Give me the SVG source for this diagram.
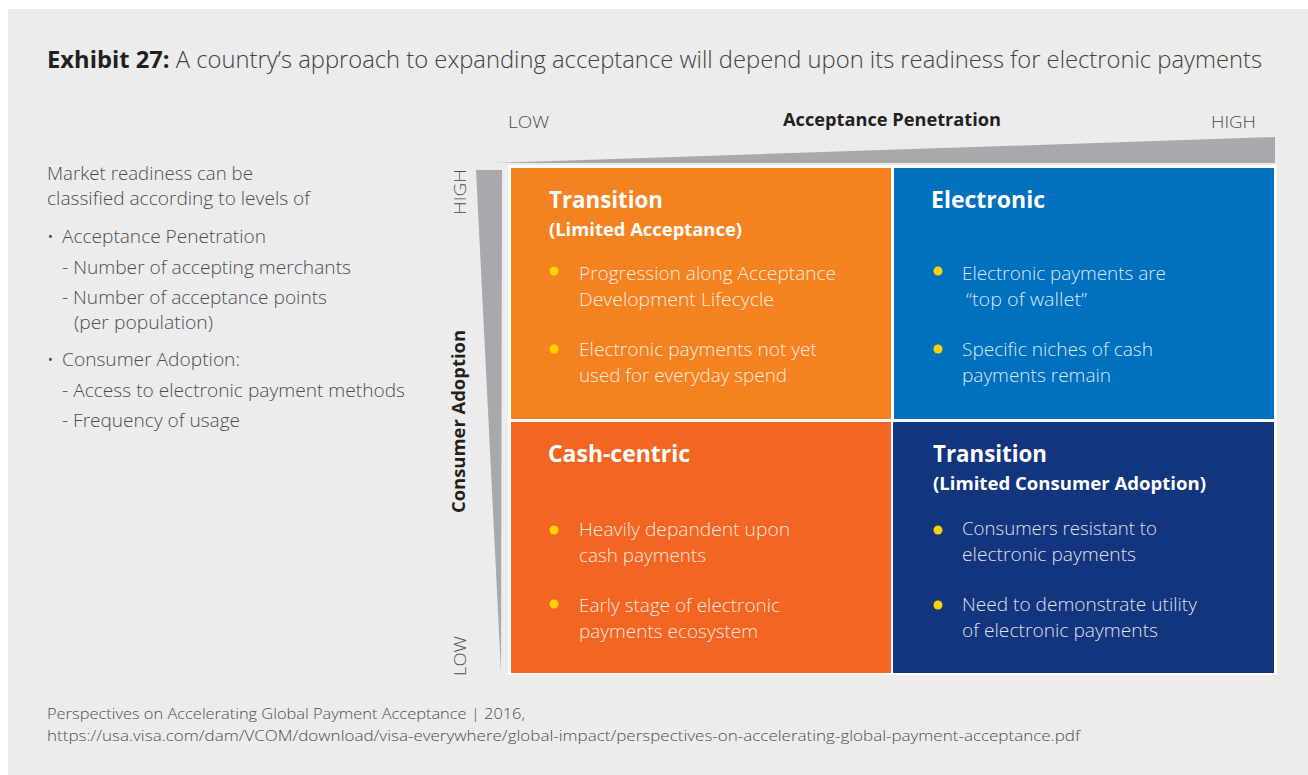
<svg xmlns="http://www.w3.org/2000/svg" width="1308" height="775" viewBox="0 0 1308 775">
<style>
text{font-family:"Open Sans","Noto Sans","Liberation Sans",sans-serif}
.lt{font-weight:300;fill:#4d4d4f;font-size:18px}
.ax{font-weight:300;fill:#4d4d4f;font-size:17px}
.axb{font-weight:700;fill:#231f20;font-size:18px}
.h1{font-weight:700;fill:#ffffff;font-size:24px}
.h2{font-weight:700;fill:#ffffff;font-size:18px}
.bt{font-weight:300;fill:#ffffff;fill-opacity:0.88;font-size:18px}
.dot{fill:#ffd200}
.ft{font-weight:300;fill:#4d4d4f;font-size:15px}
</style>
<rect x="0" y="0" width="1308" height="775" fill="#ffffff"/>
<rect x="8" y="9" width="1300" height="766" fill="#ececec"/>
<text x="47" y="68" font-size="24" textLength="1215" lengthAdjust="spacingAndGlyphs"><tspan font-weight="700" fill="#231f20">Exhibit 27:</tspan><tspan font-weight="300" fill="#414042"> A country’s approach to expanding acceptance will depend upon its readiness for electronic payments</tspan></text>
<g id="legend">
<text class="lt" x="47" y="180" textLength="206" lengthAdjust="spacingAndGlyphs">Market readiness can be</text>
<text class="lt" x="47" y="205" textLength="263" lengthAdjust="spacingAndGlyphs">classified according to levels of</text>
<text class="lt" x="47" y="243">•</text>
<text class="lt" x="62" y="243" textLength="204" lengthAdjust="spacingAndGlyphs">Acceptance Penetration</text>
<text class="lt" x="62" y="274" textLength="289" lengthAdjust="spacingAndGlyphs">- Number of accepting merchants</text>
<text class="lt" x="62" y="304" textLength="265" lengthAdjust="spacingAndGlyphs">- Number of acceptance points</text>
<text class="lt" x="74" y="329" textLength="139" lengthAdjust="spacingAndGlyphs">(per population)</text>
<text class="lt" x="47" y="366">•</text>
<text class="lt" x="62" y="366" textLength="178" lengthAdjust="spacingAndGlyphs">Consumer Adoption:</text>
<text class="lt" x="62" y="397" textLength="343" lengthAdjust="spacingAndGlyphs">- Access to electronic payment methods</text>
<text class="lt" x="62" y="427" textLength="178" lengthAdjust="spacingAndGlyphs">- Frequency of usage</text>
</g>
<g id="axis-x">
<polygon points="495,163 1275,137 1275,163" fill="#a7a9ac"/>
<text class="ax" x="508" y="128" textLength="41" lengthAdjust="spacingAndGlyphs">LOW</text>
<text class="axb" x="783" y="126" textLength="218" lengthAdjust="spacingAndGlyphs">Acceptance Penetration</text>
<text class="ax" x="1211" y="128" textLength="45" lengthAdjust="spacingAndGlyphs">HIGH</text>
</g>
<g id="axis-y">
<polygon points="476,170 502,170 501,672" fill="#a7a9ac"/>
<text class="ax" transform="translate(466,215) rotate(-90)" textLength="46" lengthAdjust="spacingAndGlyphs">HIGH</text>
<text class="axb" transform="translate(465,513) rotate(-90)" textLength="183" lengthAdjust="spacingAndGlyphs">Consumer Adoption</text>
<text class="ax" transform="translate(466,676) rotate(-90)" textLength="40" lengthAdjust="spacingAndGlyphs">LOW</text>
</g>
<rect x="508" y="165" width="769" height="510" fill="#ffffff"/>
<g id="q-transition-acceptance">
<rect x="511" y="168" width="380" height="251" fill="#f58220"/>
<text class="h1" x="549" y="208" textLength="114" lengthAdjust="spacingAndGlyphs">Transition</text>
<text class="h2" x="549" y="236" textLength="193" lengthAdjust="spacingAndGlyphs">(Limited Acceptance)</text>
<circle class="dot" cx="554" cy="271" r="4.5"/>
<text class="bt" x="579" y="280" textLength="257" lengthAdjust="spacingAndGlyphs">Progression along Acceptance</text>
<text class="bt" x="579" y="306" textLength="195" lengthAdjust="spacingAndGlyphs">Development Lifecycle</text>
<circle class="dot" cx="554" cy="349" r="4.5"/>
<text class="bt" x="579" y="356" textLength="238" lengthAdjust="spacingAndGlyphs">Electronic payments not yet</text>
<text class="bt" x="579" y="382" textLength="208" lengthAdjust="spacingAndGlyphs">used for everyday spend</text>
</g>
<g id="q-electronic">
<rect x="894" y="168" width="380" height="251" fill="#0070bf"/>
<text class="h1" x="931" y="208" textLength="114" lengthAdjust="spacingAndGlyphs">Electronic</text>
<circle class="dot" cx="938" cy="271" r="4.5"/>
<text class="bt" x="962" y="280" textLength="204" lengthAdjust="spacingAndGlyphs">Electronic payments are</text>
<text class="bt" x="966" y="306" textLength="121" lengthAdjust="spacingAndGlyphs">“top of wallet”</text>
<circle class="dot" cx="938" cy="349" r="4.5"/>
<text class="bt" x="962" y="356" textLength="191" lengthAdjust="spacingAndGlyphs">Specific niches of cash</text>
<text class="bt" x="962" y="382" textLength="149" lengthAdjust="spacingAndGlyphs">payments remain</text>
</g>
<g id="q-cash-centric">
<rect x="511" y="422" width="380" height="251" fill="#f26522"/>
<text class="h1" x="548" y="462" textLength="142" lengthAdjust="spacingAndGlyphs">Cash-centric</text>
<circle class="dot" cx="554" cy="530" r="4.5"/>
<text class="bt" x="579" y="536" textLength="211" lengthAdjust="spacingAndGlyphs">Heavily depandent upon</text>
<text class="bt" x="579" y="562" textLength="127" lengthAdjust="spacingAndGlyphs">cash payments</text>
<circle class="dot" cx="554" cy="604" r="4.5"/>
<text class="bt" x="579" y="612" textLength="201" lengthAdjust="spacingAndGlyphs">Early stage of electronic</text>
<text class="bt" x="579" y="638" textLength="179" lengthAdjust="spacingAndGlyphs">payments ecosystem</text>
</g>
<g id="q-transition-adoption">
<rect x="893" y="422" width="381" height="251" fill="#13357d"/>
<text class="h1" x="933" y="462" textLength="114" lengthAdjust="spacingAndGlyphs">Transition</text>
<text class="h2" x="933" y="490" textLength="273" lengthAdjust="spacingAndGlyphs">(Limited Consumer Adoption)</text>
<circle class="dot" cx="938" cy="530" r="4.5"/>
<text class="bt" x="962" y="535" textLength="195" lengthAdjust="spacingAndGlyphs">Consumers resistant to</text>
<text class="bt" x="962" y="561" textLength="174" lengthAdjust="spacingAndGlyphs">electronic payments</text>
<circle class="dot" cx="938" cy="605" r="4.5"/>
<text class="bt" x="962" y="611" textLength="235" lengthAdjust="spacingAndGlyphs">Need to demonstrate utility</text>
<text class="bt" x="962" y="637" textLength="196" lengthAdjust="spacingAndGlyphs">of electronic payments</text>
</g>
<g id="footer">
<text class="ft" x="47" y="719" textLength="478" lengthAdjust="spacingAndGlyphs">Perspectives on Accelerating Global Payment Acceptance | 2016,</text>
<text class="ft" x="47" y="741" textLength="1033" lengthAdjust="spacingAndGlyphs">https://usa.visa.com/dam/VCOM/download/visa-everywhere/global-impact/perspectives-on-accelerating-global-payment-acceptance.pdf</text>
</g>
<g id="connectors"/>
</svg>
